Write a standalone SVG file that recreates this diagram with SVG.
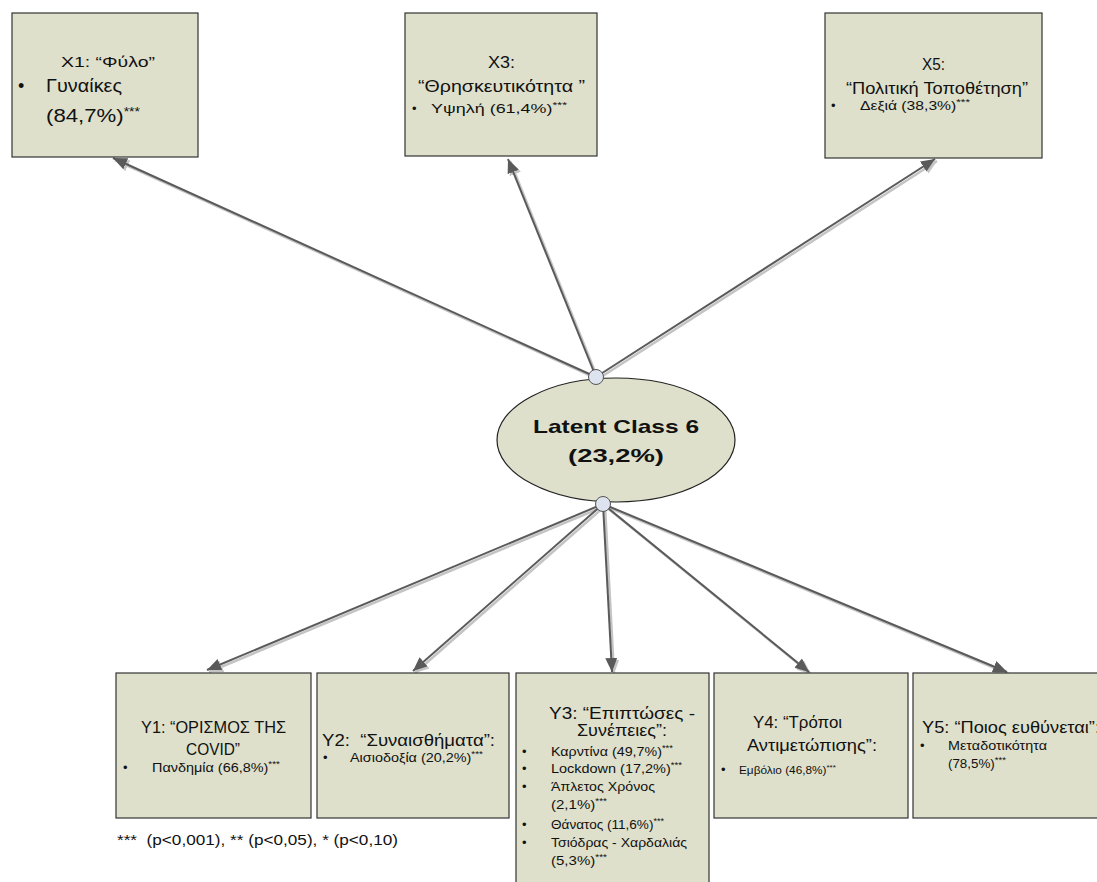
<svg xmlns="http://www.w3.org/2000/svg" width="1097" height="882" viewBox="0 0 1097 882">
<defs>
<style>
.box{fill:#dee0cb;stroke:#333;stroke-width:1.2}
.t{font-family:"Liberation Sans",Arial,sans-serif;fill:#111}
.c{text-anchor:middle}
.ln{fill:none;stroke:#5a5a5a;stroke-width:2}
.sh{fill:none;stroke:#c4c4c4;stroke-width:2.5}
</style>
<marker id="ah" markerUnits="userSpaceOnUse" markerWidth="16" markerHeight="14" refX="14" refY="6" orient="auto">
<path d="M0,0 L14,6 L0,12 z" fill="#5a5a5a"/>
</marker>
<marker id="ahs" markerUnits="userSpaceOnUse" markerWidth="16" markerHeight="14" refX="14" refY="6" orient="auto">
<path d="M0,0 L14,6 L0,12 z" fill="#c4c4c4"/>
</marker>
</defs>
<rect width="1097" height="882" fill="#fff"/>

<g id="connectors">
<g transform="translate(2,2)">
<path class="sh" d="M596,377 L113,158" marker-end="url(#ahs)"/>
<path class="sh" d="M596,377 L508,159" marker-end="url(#ahs)"/>
<path class="sh" d="M596,377 L935,159" marker-end="url(#ahs)"/>
<path class="sh" d="M603,504 L207,670" marker-end="url(#ahs)"/>
<path class="sh" d="M603,504 L413,671" marker-end="url(#ahs)"/>
<path class="sh" d="M603,504 L612,672" marker-end="url(#ahs)"/>
<path class="sh" d="M603,504 L809,672" marker-end="url(#ahs)"/>
<path class="sh" d="M603,504 L1007,672" marker-end="url(#ahs)"/>
</g>
<path class="ln" d="M596,377 L113,158" marker-end="url(#ah)"/>
<path class="ln" d="M596,377 L508,159" marker-end="url(#ah)"/>
<path class="ln" d="M596,377 L935,159" marker-end="url(#ah)"/>
<path class="ln" d="M603,504 L207,670" marker-end="url(#ah)"/>
<path class="ln" d="M603,504 L413,671" marker-end="url(#ah)"/>
<path class="ln" d="M603,504 L612,672" marker-end="url(#ah)"/>
<path class="ln" d="M603,504 L809,672" marker-end="url(#ah)"/>
<path class="ln" d="M603,504 L1007,672" marker-end="url(#ah)"/>
</g>

<g id="X1">
<rect class="box" x="12" y="13" width="186" height="144"/>
<text class="t" x="61" y="67" font-size="15" textLength="94" lengthAdjust="spacingAndGlyphs">X1: “Φύλο”</text>
<text class="t" x="18" y="92" font-size="18">•</text>
<text class="t" x="46" y="92" font-size="19" textLength="76" lengthAdjust="spacingAndGlyphs">Γυναίκες</text>
<text class="t" x="46" y="122" font-size="19" textLength="94" lengthAdjust="spacingAndGlyphs">(84,7%)<tspan font-size="12" dy="-6">***</tspan></text>
</g>

<g id="X3">
<rect class="box" x="405" y="13" width="192" height="143"/>
<text class="t" x="488" y="68" font-size="16" textLength="27" lengthAdjust="spacingAndGlyphs">X3:</text>
<text class="t" x="418" y="92" font-size="16" textLength="167" lengthAdjust="spacingAndGlyphs">“Θρησκευτικότητα ”</text>
<text class="t" x="412" y="113" font-size="13">•</text>
<text class="t" x="431" y="113" font-size="13" textLength="136" lengthAdjust="spacingAndGlyphs">Υψηλή (61,4%)<tspan font-size="9" dy="-5">***</tspan></text>
</g>

<g id="X5">
<rect class="box" x="825" y="13" width="217" height="145"/>
<text class="t" x="922" y="70" font-size="16" textLength="23" lengthAdjust="spacingAndGlyphs">X5:</text>
<text class="t" x="846" y="94" font-size="16" textLength="182" lengthAdjust="spacingAndGlyphs">“Πολιτική Τοποθέτηση”</text>
<text class="t" x="831" y="110" font-size="13">•</text>
<text class="t" x="860" y="110" font-size="12" textLength="110" lengthAdjust="spacingAndGlyphs">Δεξιά (38,3%)<tspan font-size="9" dy="-5">***</tspan></text>
</g>

<g id="LC6">
<ellipse cx="616" cy="440" rx="119" ry="62" fill="#dee0cb" stroke="#222" stroke-width="1.2"/>
<text class="t" x="533" y="433" font-size="19" font-weight="bold" textLength="166" lengthAdjust="spacingAndGlyphs">Latent Class 6</text>
<text class="t" x="568" y="462" font-size="19" font-weight="bold" textLength="96" lengthAdjust="spacingAndGlyphs">(23,2%)</text>
<circle cx="596" cy="377" r="7.5" fill="#dde4ef" stroke="#555" stroke-width="1"/>
<circle cx="603" cy="504" r="7.5" fill="#dde4ef" stroke="#555" stroke-width="1"/>
</g>

<g id="Y1">
<rect class="box" x="116" y="673" width="195" height="145"/>
<text class="t" x="141" y="733" font-size="16" textLength="145" lengthAdjust="spacingAndGlyphs">Y1: “ΟΡΙΣΜΟΣ ΤΗΣ</text>
<text class="t" x="186" y="755" font-size="16" textLength="54" lengthAdjust="spacingAndGlyphs">COVID”</text>
<text class="t" x="123" y="772" font-size="13">•</text>
<text class="t" x="152" y="772" font-size="13" textLength="128" lengthAdjust="spacingAndGlyphs">Πανδημία (66,8%)<tspan font-size="9" dy="-5">***</tspan></text>
</g>

<g id="Y2">
<rect class="box" x="317" y="673" width="192" height="145"/>
<text class="t" x="322" y="746" font-size="16" xml:space="preserve" textLength="173" lengthAdjust="spacingAndGlyphs">Y2:  “Συναισθήματα”:</text>
<text class="t" x="323" y="762" font-size="13">•</text>
<text class="t" x="350" y="762" font-size="13" textLength="133" lengthAdjust="spacingAndGlyphs">Αισιοδοξία (20,2%)<tspan font-size="9" dy="-5">***</tspan></text>
</g>

<g id="Y3">
<rect class="box" x="516" y="673" width="193" height="220"/>
<text class="t" x="549" y="719" font-size="16" textLength="146" lengthAdjust="spacingAndGlyphs">Y3: “Επιπτώσες -</text>
<text class="t" x="577" y="736" font-size="16" textLength="90" lengthAdjust="spacingAndGlyphs">Συνέπειες”:</text>
<text class="t" x="522" y="756" font-size="13">•</text>
<text class="t" x="551" y="756" font-size="13.5" textLength="122" lengthAdjust="spacingAndGlyphs">Καρντίνα (49,7%)<tspan font-size="9" dy="-5">***</tspan></text>
<text class="t" x="522" y="773" font-size="13">•</text>
<text class="t" x="551" y="773" font-size="13.5" textLength="131" lengthAdjust="spacingAndGlyphs">Lockdown (17,2%)<tspan font-size="9" dy="-5">***</tspan></text>
<text class="t" x="522" y="791" font-size="13">•</text>
<text class="t" x="551" y="791" font-size="13.5" textLength="104" lengthAdjust="spacingAndGlyphs">Άπλετος Χρόνος</text>
<text class="t" x="551" y="809" font-size="13.5" textLength="56" lengthAdjust="spacingAndGlyphs">(2,1%)<tspan font-size="9" dy="-5">***</tspan></text>
<text class="t" x="522" y="829" font-size="13">•</text>
<text class="t" x="551" y="829" font-size="13.5" textLength="113" lengthAdjust="spacingAndGlyphs">Θάνατος (11,6%)<tspan font-size="9" dy="-5">***</tspan></text>
<text class="t" x="522" y="847" font-size="13">•</text>
<text class="t" x="551" y="847" font-size="13.5" textLength="136" lengthAdjust="spacingAndGlyphs">Τσιόδρας - Χαρδαλιάς</text>
<text class="t" x="551" y="865" font-size="13.5" textLength="56" lengthAdjust="spacingAndGlyphs">(5,3%)<tspan font-size="9" dy="-5">***</tspan></text>
</g>

<g id="Y4">
<rect class="box" x="714" y="673" width="194" height="145"/>
<text class="t" x="753" y="728" font-size="16" textLength="89" lengthAdjust="spacingAndGlyphs">Y4: “Τρόποι</text>
<text class="t" x="747" y="751" font-size="16" textLength="130" lengthAdjust="spacingAndGlyphs">Αντιμετώπισης”:</text>
<text class="t" x="721" y="774" font-size="13">•</text>
<text class="t" x="739" y="774" font-size="11.8">Εμβόλιο (46,8%)<tspan font-size="8" dy="-4">***</tspan></text>
</g>

<g id="Y5">
<rect class="box" x="913" y="673" width="200" height="145"/>
<text class="t" x="922" y="733" font-size="16" textLength="178" lengthAdjust="spacingAndGlyphs">Y5: “Ποιος ευθύνεται”:</text>
<text class="t" x="920" y="750" font-size="13">•</text>
<text class="t" x="948" y="750" font-size="12.5" textLength="99" lengthAdjust="spacingAndGlyphs">Μεταδοτικότητα</text>
<text class="t" x="948" y="768" font-size="12.5" textLength="58" lengthAdjust="spacingAndGlyphs">(78,5%)<tspan font-size="9" dy="-5">***</tspan></text>
</g>

<text id="footnote" class="t" x="117" y="845" font-size="14" xml:space="preserve" textLength="281" lengthAdjust="spacingAndGlyphs">***  (p&lt;0,001), ** (p&lt;0,05), * (p&lt;0,10)</text>
</svg>
